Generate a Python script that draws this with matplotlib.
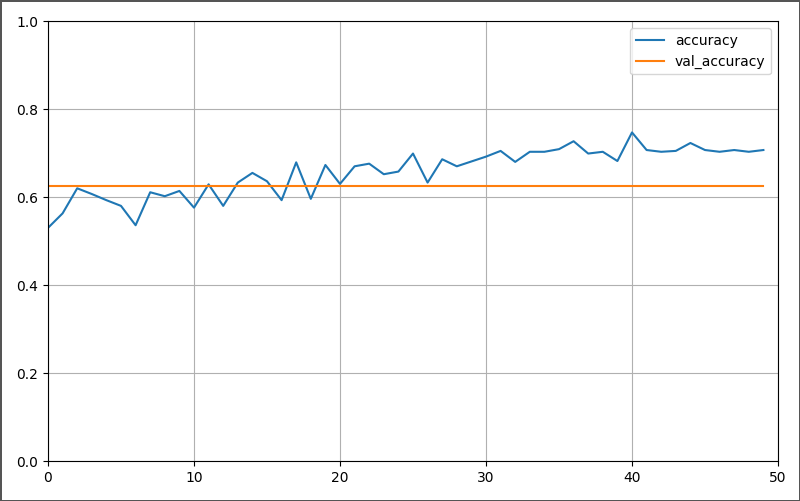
import numpy as np
import matplotlib
matplotlib.use("Agg")
import matplotlib.pyplot as plt

# historique d'entraînement
epochs = np.arange(50)
accuracy = [0.530, 0.563, 0.620, 0.607, 0.593, 0.580, 0.536, 0.611, 0.602, 0.614,
            0.576, 0.629, 0.580, 0.633, 0.655, 0.636, 0.593, 0.679, 0.596, 0.673,
            0.630, 0.670, 0.676, 0.652, 0.658, 0.699, 0.633, 0.686, 0.670, 0.681,
            0.692, 0.705, 0.680, 0.703, 0.703, 0.709, 0.727, 0.699, 0.703, 0.682,
            0.747, 0.707, 0.703, 0.705, 0.723, 0.707, 0.703, 0.707, 0.703, 0.707]
val_accuracy = [0.625] * 50

fig = plt.figure(figsize=(8, 5.01), dpi=100)
fig.patch.set_edgecolor('#555555')
fig.patch.set_linewidth(2)
ax = fig.add_axes([0.06, 0.0798, 0.9125, 0.878])

ax.plot(epochs, accuracy, label='accuracy')
ax.plot(epochs, val_accuracy, label='val_accuracy')
ax.set_xlim(0, 50)
ax.set_ylim(0, 1)
ax.grid(True)
ax.legend(loc='upper right')

fig.savefig("out.png", dpi=100, edgecolor=fig.get_edgecolor())
